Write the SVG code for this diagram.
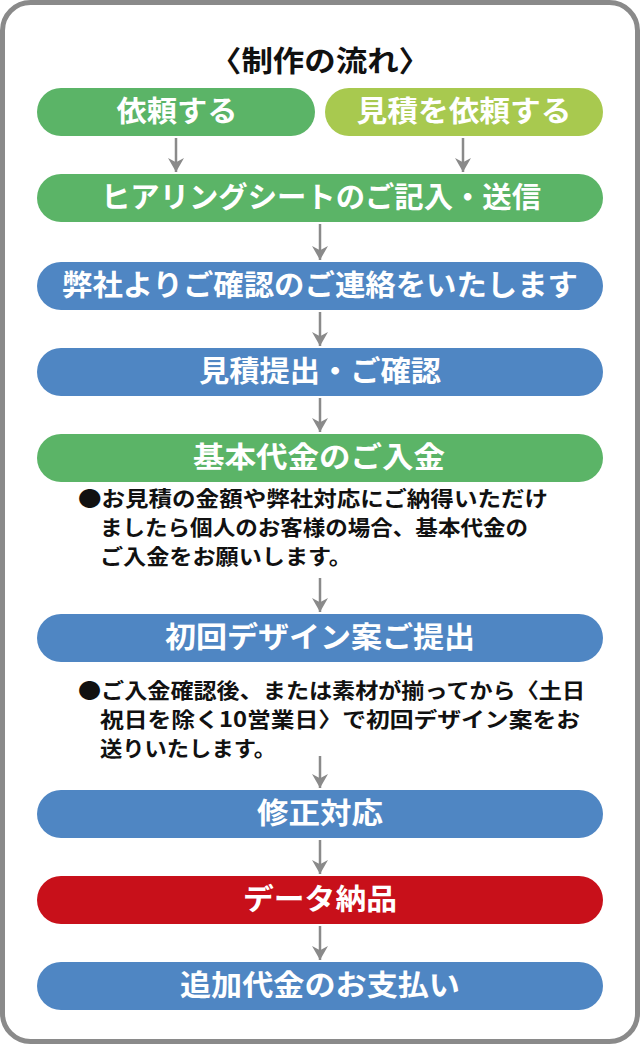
<svg xmlns="http://www.w3.org/2000/svg" width="640" height="1044" viewBox="0 0 640 1044">
<style>
text{font-family:"Noto Sans CJK JP","Noto Sans",sans-serif;font-weight:bold}
.n{fill:#fff;font-size:29px;text-anchor:middle}
.g{fill:#5bb467}.l{fill:#a8c94f}.b{fill:#4f86c3}.r{fill:#c8101a}
.t{fill:#111;font-size:21px}
.c line{stroke:#8a8a8a;stroke-width:2.5}
</style>
<defs><marker id="a" viewBox="0 0 10 10" refX="10" refY="5" markerWidth="14" markerHeight="16" markerUnits="userSpaceOnUse" orient="auto" preserveAspectRatio="none"><path d="M0,0L10,5L0,10L3,5z" fill="#8a8a8a"/></marker></defs>
<rect x="2.5" y="2.5" width="635" height="1039" rx="28" fill="#fff" stroke="#8a8a8a" stroke-width="5"/>
<text x="320" y="72" font-size="29" text-anchor="middle" fill="#111" textLength="220" lengthAdjust="spacingAndGlyphs">〈制作の流れ〉</text>
<g class="c">
<line x1="176" y1="138" x2="176" y2="172" marker-end="url(#a)"/>
<line x1="463" y1="138" x2="463" y2="172" marker-end="url(#a)"/>
<line x1="320" y1="224" x2="320" y2="260" marker-end="url(#a)"/>
<line x1="320" y1="312" x2="320" y2="346" marker-end="url(#a)"/>
<line x1="320" y1="398" x2="320" y2="432" marker-end="url(#a)"/>
<line x1="320" y1="578" x2="320" y2="612" marker-end="url(#a)"/>
<line x1="320" y1="756" x2="320" y2="788" marker-end="url(#a)"/>
<line x1="320" y1="840" x2="320" y2="874" marker-end="url(#a)"/>
<line x1="320" y1="926" x2="320" y2="960" marker-end="url(#a)"/>
</g>
<g id="n1"><rect class="g" x="37" y="88" width="278" height="48" rx="24"/><text class="n" x="177" y="122" textLength="121" lengthAdjust="spacingAndGlyphs">依頼する</text></g>
<g id="n2"><rect class="l" x="325" y="88" width="278" height="48" rx="24"/><text class="n" x="464" y="122" textLength="215" lengthAdjust="spacingAndGlyphs">見積を依頼する</text></g>
<g id="n3"><rect class="g" x="37" y="174" width="566" height="48" rx="24"/><text class="n" x="321" y="208" textLength="440" lengthAdjust="spacingAndGlyphs">ヒアリングシートのご記入・送信</text></g>
<g id="n4"><rect class="b" x="37" y="262" width="566" height="48" rx="24"/><text class="n" x="320" y="296" textLength="516" lengthAdjust="spacingAndGlyphs">弊社よりご確認のご連絡をいたします</text></g>
<g id="n5"><rect class="b" x="37" y="348" width="566" height="48" rx="24"/><text class="n" x="320" y="382" textLength="242" lengthAdjust="spacingAndGlyphs">見積提出・ご確認</text></g>
<g id="n6"><rect class="g" x="37" y="434" width="566" height="48" rx="24"/><text class="n" x="319" y="468" textLength="252" lengthAdjust="spacingAndGlyphs">基本代金のご入金</text></g>
<g id="note1"><text class="t" x="78" y="506" textLength="470" lengthAdjust="spacingAndGlyphs">●お見積の金額や弊社対応にご納得いただけ</text><text class="t" x="100" y="535" textLength="428" lengthAdjust="spacingAndGlyphs">ましたら個人のお客様の場合、基本代金の</text><text class="t" x="100" y="564" textLength="252" lengthAdjust="spacingAndGlyphs">ご入金をお願いします。</text></g>
<g id="n7"><rect class="b" x="37" y="614" width="566" height="48" rx="24"/><text class="n" x="320" y="648" textLength="310" lengthAdjust="spacingAndGlyphs">初回デザイン案ご提出</text></g>
<g id="note2"><text class="t" x="78" y="698" textLength="507" lengthAdjust="spacingAndGlyphs">●ご入金確認後、または素材が揃ってから〈土日</text><text class="t" x="100" y="727" textLength="480" lengthAdjust="spacingAndGlyphs">祝日を除く10営業日〉で初回デザイン案をお</text><text class="t" x="100" y="756" textLength="176" lengthAdjust="spacingAndGlyphs">送りいたします。</text></g>
<g id="n8"><rect class="b" x="37" y="790" width="566" height="48" rx="24"/><text class="n" x="320" y="824" textLength="126" lengthAdjust="spacingAndGlyphs">修正対応</text></g>
<g id="n9"><rect class="r" x="37" y="876" width="566" height="48" rx="24"/><text class="n" x="320" y="910" textLength="154" lengthAdjust="spacingAndGlyphs">データ納品</text></g>
<g id="n10"><rect class="b" x="37" y="962" width="566" height="48" rx="24"/><text class="n" x="320" y="996" textLength="280" lengthAdjust="spacingAndGlyphs">追加代金のお支払い</text></g>
</svg>
